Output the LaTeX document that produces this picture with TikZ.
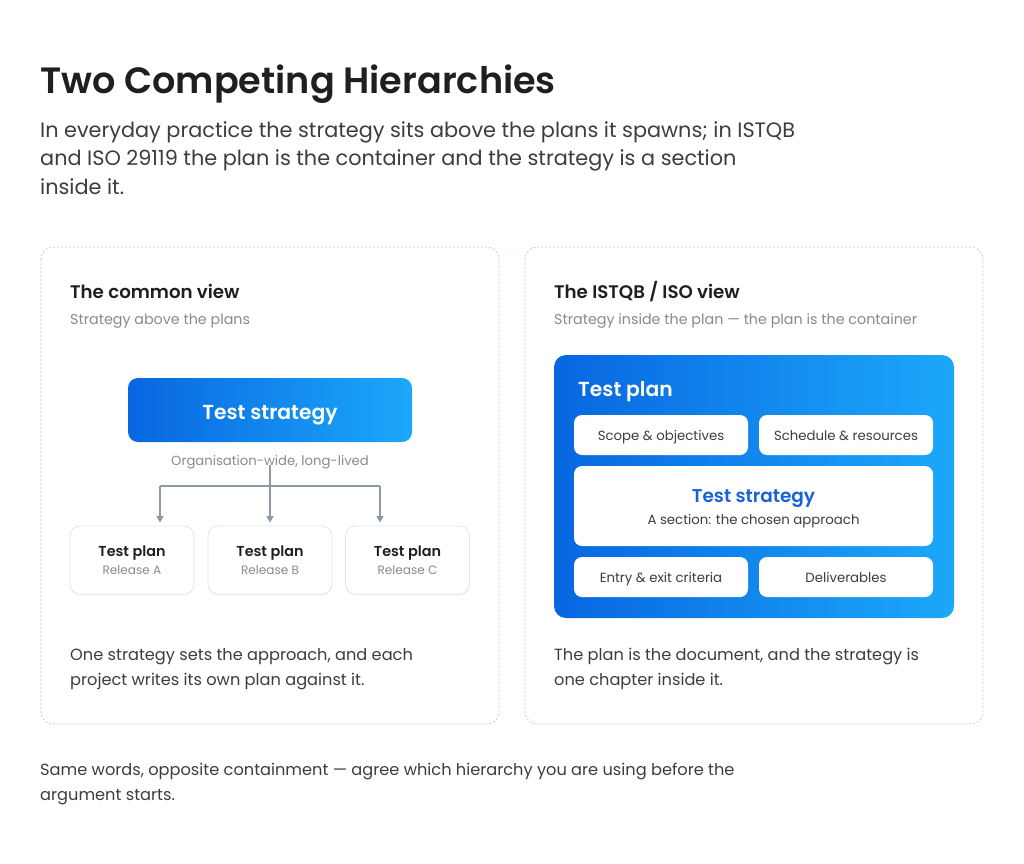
\documentclass[tikz,border=0pt]{standalone}
\usepackage{fontspec}
\setmainfont{Poppins}
\newfontfamily\semib{Poppins SemiBold}
\usetikzlibrary{positioning,shadows,arrows.meta}

\definecolor{inkdark}{HTML}{1F1F1F}
\definecolor{inkbody}{HTML}{3D3D3D}
\definecolor{inkgray}{HTML}{8A8A8A}
\definecolor{linkgray}{HTML}{8C99A8}
\definecolor{cardline}{HTML}{E1E6EC}
\definecolor{panelline}{HTML}{B5D0D9}
\definecolor{blueA}{HTML}{0866E0}
\definecolor{blueB}{HTML}{1CA8FA}
\definecolor{bluetext}{HTML}{1862D6}

\tikzset{
  panel/.style={draw=panelline, line width=0.8pt, dash pattern=on 2pt off 2pt, rounded corners=12pt},
  gradbox/.style={left color=blueA, right color=blueB, rounded corners=10pt, draw=none},
  card/.style={draw=cardline, fill=white, line width=0.8pt, rounded corners=10pt,
    drop shadow={opacity=0.06, shadow xshift=0pt, shadow yshift=-2pt},
    minimum width=124pt, minimum height=68pt, align=center},
  section/.style={fill=white, rounded corners=8pt, minimum width=174pt, minimum height=40pt,
    font=\fontsize{13.3}{15}\selectfont, text=inkbody, text height=11pt, text depth=0pt},
  link/.style={draw=linkgray, line width=1.4pt},
  arr/.style={link, -{Triangle[width=7pt,length=6.5pt]}, shorten >=3pt},
  txt/.style={anchor=base west, inner sep=0pt, align=left}
}

\begin{document}
\begin{tikzpicture}[x=1pt, y=-1pt]
  \useasboundingbox[fill=white] (0,0) rectangle (1024,863);

  % heading
  \node[txt, text=inkdark, font=\semib\fontsize{36.6}{42}\selectfont] (title) at (40,93) {Two Competing Hierarchies};
  \node[txt, text=inkbody, font=\fontsize{20.8}{28.5}\selectfont] (intro) at (40,194)
    {In everyday practice the strategy sits above the plans it spawns; in ISTQB\\
     and ISO 29119 the plan is the container and the strategy is a section\\
     inside it.};

  % panels
  \draw[panel] (41,247) rectangle (499,724);
  \draw[panel] (525,247) rectangle (983,724);

  % left panel: the common view
  \node[txt, text=inkdark, font=\semib\fontsize{18.2}{22}\selectfont] (lhead) at (70,298) {The common view};
  \node[txt, text=inkgray, font=\fontsize{14.3}{16}\selectfont] (lsub) at (70,324) {Strategy above the plans};

  \node[gradbox, minimum width=284pt, minimum height=64pt, text=white, text height=18pt, text depth=0pt,
    font=\semib\fontsize{20.3}{24}\selectfont] (strat) at (270,410) {Test strategy};
  \node[text=inkgray, font=\fontsize{13.2}{15}\selectfont, inner sep=0pt, anchor=base] (orgnote) at (270,465) {Organisation-wide, long-lived};

  \node[card] (planA) at (132,560) {{\semib\fontsize{14.4}{16}\selectfont\color{inkdark}Test plan}\\[4pt]{\fontsize{12.1}{14}\selectfont\color{inkgray}Release A}};
  \node[card] (planB) at (270,560) {{\semib\fontsize{14.4}{16}\selectfont\color{inkdark}Test plan}\\[4pt]{\fontsize{12.1}{14}\selectfont\color{inkgray}Release B}};
  \node[card] (planC) at (407.5,560) {{\semib\fontsize{14.4}{16}\selectfont\color{inkdark}Test plan}\\[4pt]{\fontsize{12.1}{14}\selectfont\color{inkgray}Release C}};

  \coordinate (busL) at (160,486);
  \coordinate (busR) at (380,486);
  \draw[arr] ([yshift=4pt]orgnote.south) -- (planB.north);
  \draw[link] (busL) -- (busR);
  \draw[arr] (busL) -- (busL |- planA.north);
  \draw[arr] (busR) -- (busR |- planC.north);

  \node[txt, text=inkbody, font=\fontsize{16.2}{25}\selectfont] (lnote) at (70,685)
    {One strategy sets the approach, and each\\project writes its own plan against it.};

  % right panel: the ISTQB / ISO view
  \node[txt, text=inkdark, font=\semib\fontsize{18.2}{22}\selectfont] (rhead) at (554,298) {The ISTQB / ISO view};
  \node[txt, text=inkgray, font=\fontsize{14.3}{16}\selectfont] (rsub) at (554,324) {Strategy inside the plan — the plan is the container};

  \node[gradbox, rounded corners=12pt, minimum width=400pt, minimum height=263pt] (plan) at (754,486.5) {};
  \node[txt, text=white, font=\semib\fontsize{20.3}{24}\selectfont] (planlbl) at (578,396) {Test plan};

  \node[section] (scope) at (661,435) {Scope \& objectives};
  \node[section] (sched) at (846,435) {Schedule \& resources};
  \node[section, minimum width=359pt, minimum height=80pt] (inner) at (753.5,506) {};
  \node[anchor=base, inner sep=0pt, text=bluetext, font=\semib\fontsize{18.5}{20}\selectfont] (innerttl) at (753.5,502) {Test strategy};
  \node[anchor=base, inner sep=0pt, text=inkbody, font=\fontsize{13.3}{15}\selectfont] (innersub) at (753.5,524.5) {A section: the chosen approach};
  \node[section] (entry) at (661,577) {Entry \& exit criteria};
  \node[section] (deliv) at (846,577) {Deliverables};

  \node[txt, text=inkbody, font=\fontsize{16.2}{25}\selectfont] (rnote) at (554,685)
    {The plan is the document, and the strategy is\\one chapter inside it.};

  % footer
  \node[txt, text=inkbody, font=\fontsize{16.2}{25}\selectfont] (footer) at (40,800)
    {Same words, opposite containment — agree which hierarchy you are using before the\\argument starts.};
\end{tikzpicture}
\end{document}
